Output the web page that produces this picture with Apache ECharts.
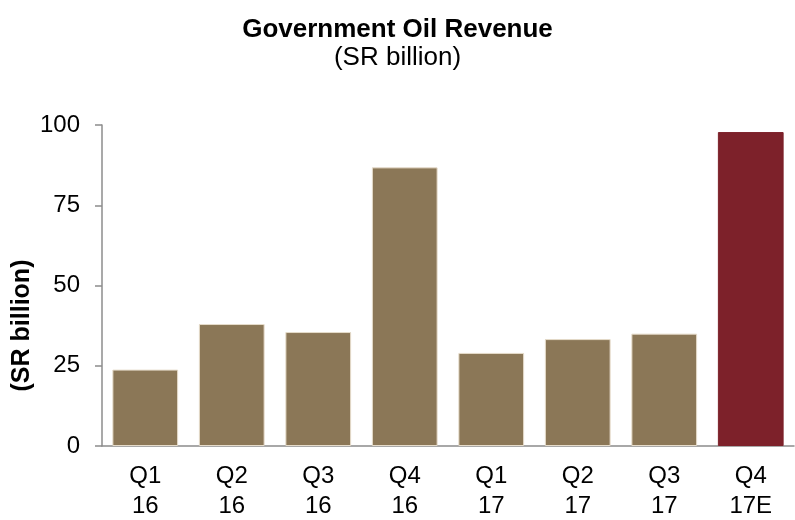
<!DOCTYPE html>
<html><head><meta charset="utf-8">
<script src="https://cdn.jsdelivr.net/npm/echarts@6/dist/echarts.min.js"></script>
<style>html,body{margin:0;padding:0;background:#fff}#c{width:795px;height:520px}</style>
</head><body><div id="c"></div>
<script>
const categories = ['Q1\n16','Q2\n16','Q3\n16','Q4\n16','Q1\n17','Q2\n17','Q3\n17','Q4\n17E'];
const revenue = [23.8, 38.0, 35.5, 86.8, 29.0, 33.3, 35.0, 97.8];
const estimateFlags = [false, false, false, false, false, false, false, true];
const yTicks = [0, 25, 50, 75, 100];

const chart = echarts.init(document.getElementById('c'));
chart.setOption({
  animation: false,
  backgroundColor: '#fff',
  title: {
    text: 'Government Oil Revenue',
    subtext: '(SR billion)',
    left: 'center', top: 12, itemGap: 2,
    textStyle: {fontFamily: 'Liberation Sans', fontSize: 26, fontWeight: 'bold', color: '#000'},
    subtextStyle: {fontFamily: 'Liberation Sans', fontSize: 26, color: '#000'}
  },
  grid: {left: 102, right: 1, top: 125, bottom: 74, outerBoundsMode: 'none', containLabel: false},
  xAxis: {
    type: 'category', data: categories,
    axisLine: {lineStyle: {color: '#8c8c8c', width: 1.5}},
    axisTick: {length: 7, lineStyle: {color: '#8c8c8c', width: 1.5}},
    axisLabel: {fontFamily: 'Liberation Sans', fontSize: 24, color: '#000', lineHeight: 30, margin: 15}
  },
  yAxis: {
    type: 'value', min: yTicks[0], max: yTicks[yTicks.length-1], interval: 25,
    name: '(SR billion)', nameLocation: 'middle', nameGap: 67, nameRotate: 90, nameMoveOverlap: false,
    nameTextStyle: {fontFamily: 'Liberation Sans', fontSize: 25, fontWeight: 'bold', color: '#000', padding: [0, 80, 0, 0]},
    axisLine: {show: true, lineStyle: {color: '#8c8c8c', width: 1.5}},
    axisTick: {show: true, inside: false, length: 7, lineStyle: {color: '#8c8c8c', width: 1.5}},
    splitLine: {show: false},
    axisLabel: {fontFamily: 'Liberation Sans', fontSize: 24, color: '#000', margin: 22}
  },
  series: [{
    type: 'bar',
    barCategoryGap: '24%',
    data: revenue.map((v, i) => ({
      value: v,
      itemStyle: {color: estimateFlags[i] ? '#7d212a' : '#8b7757', borderColor: estimateFlags[i] ? '#7d212a' : '#e6dccb', borderWidth: 1}
    }))
  }]
});
</script></body></html>
